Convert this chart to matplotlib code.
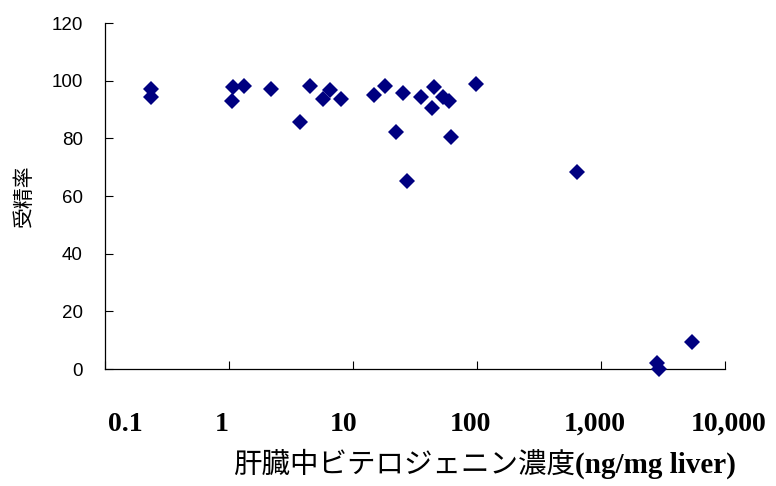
import matplotlib
matplotlib.use("Agg")
import matplotlib.pyplot as plt
import matplotlib.transforms as mtransforms

# liver vitellogenin concentration (ng/mg liver) vs fertilization rate (%)
conc = [0.234, 0.234, 1.07, 1.05, 1.32, 2.19, 3.76, 4.48, 5.70, 6.53, 8.00,
        14.7, 18.1, 22.1, 25.2, 27.2, 35.3, 45.0, 43.6, 53.5, 59.4, 61.4,
        98.2, 644, 5450, 2845, 2950]
fert = [97.1, 94.2, 97.7, 93.1, 98.3, 97.0, 85.6, 98.3, 93.6, 96.9, 93.6,
        95.1, 98.3, 82.3, 95.7, 65.2, 94.3, 97.7, 90.5, 94.2, 93.1, 80.4,
        98.8, 68.3, 9.4, 2.0, 0.0]

x_ticks = [0.1, 1, 10, 100, 1000, 10000]
x_ticklabels = ["0.1", "1", "10", "100", "1,000", "10,000"]
y_ticks = [0, 20, 40, 60, 80, 100, 120]

fig = plt.figure(figsize=(7.76, 4.86), dpi=100)
ax = fig.add_axes([105 / 776, 1 - 369 / 486, 620 / 776, 346 / 486])

ax.plot(conc, fert, linestyle="none", marker="D", markersize=7.8,
        color="#000080", markeredgewidth=0, clip_on=False, zorder=3)

ax.set_xscale("log")
ax.set_xlim(0.1, 10000)
ax.set_ylim(0, 120)
ax.set_xticks(x_ticks)
ax.set_xticklabels(x_ticklabels, fontfamily="Liberation Serif",
                   fontweight="bold", fontsize=20)
ax.xaxis.set_minor_locator(matplotlib.ticker.NullLocator())
ax.set_yticks(y_ticks)
ax.set_yticklabels([str(v) for v in y_ticks], fontfamily="Liberation Sans",
                   fontsize=13.5)

ax.tick_params(axis="x", direction="in", length=5.5, width=0.8, pad=31)
ax.tick_params(axis="y", direction="in", length=5.5, width=0.8, pad=16)

# excel puts the first label a bit off the tick
offsets = [20, -7, -9, -7, -6, 4]
for lab, dx in zip(ax.get_xticklabels(), offsets):
    lab.set_transform(lab.get_transform() +
                      mtransforms.ScaledTranslation(dx / 100, 0, fig.dpi_scale_trans))

for side in ["top", "right"]:
    ax.spines[side].set_visible(False)
for side in ["left", "bottom"]:
    ax.spines[side].set_color("black")
    ax.spines[side].set_linewidth(0.9)

ax.set_ylabel("受精率", fontfamily=["Noto Sans CJK JP", "DejaVu Sans"],
              fontsize=15, va="center")
ax.yaxis.set_label_coords((24 - 105) / 620, 0.5)

# x label: japanese part plain, unit part in bold serif
base_y = 1 - 473 / 486
fig.text(575 / 776, base_y, "肝臓中ビテロジェニン濃度",
         fontfamily=["Noto Sans CJK JP", "DejaVu Sans"], fontsize=20.5,
         ha="right", va="baseline")
fig.text(575 / 776, base_y, "(ng/mg liver)", fontfamily="Liberation Serif",
         fontweight="bold", fontsize=21, ha="left", va="baseline")

fig.savefig("out.png", dpi=100)
